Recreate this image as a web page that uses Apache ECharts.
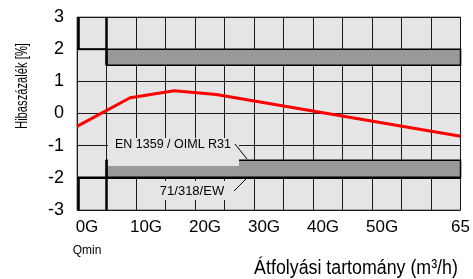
<!DOCTYPE html>
<html>
<head>
	<meta charset="utf-8" />
	<title>Hibagörbe</title>
	<script src="https://cdn.jsdelivr.net/npm/echarts@6/dist/echarts.min.js"></script>
	<style>
		html, body { margin: 0; padding: 0; background: #fff; }
		#chart { width: 473px; height: 279px; }
	</style>
</head>
<body>
	<div id="chart"></div>
	<script type="text/javascript">
		/******************* adatok ******************/
		// mért hibagörbe (átfolyás, hiba %)
		var curveQ = [0, 9, 16.5, 23.6, 65];
		var curveErr = [-0.4, 0.49, 0.71, 0.59, -0.71];

		// hibahatárok
		var qMin = 0.3, qT = 5, qMax = 65;
		var upperLimit = 2, upperInner = 1.5;
		var lowerLimit = -2, lowerInner = -1.45;

		// tengely feliratok
		var xLabelVals = [0, 10, 20, 30, 40, 50, 65];
		var xLabelText = ['0G', '10G', '20G', '30G', '40G', '50G', '65'];

		var curveData = curveQ.map(function (q, i) { return [q, curveErr[i]]; });
		var bands = [[qT, qMax, upperInner, upperLimit], [qT, qMax, lowerLimit, lowerInner]];
		var segments = [
			[[qMin, 3], [qMin, upperLimit], 2],
			[[0, upperLimit], [qT, upperLimit], 2],
			[[qT, 3], [qT, upperInner], 2.5],
			[[qMin, -3], [qMin, lowerLimit], 2],
			[[0, lowerLimit], [qMax, lowerLimit], 2.5],
			[[qT, lowerInner], [qT, -3], 2.5]
		];

		var dom = document.getElementById('chart');
		var myChart = echarts.init(dom, null, { renderer: 'canvas' });

		var option = {
			animation: false,
			grid: {
				left: 77, right: 11, top: 17, bottom: 69,
				show: true,
				backgroundColor: '#e5e5e5',
				borderColor: '#666',
				borderWidth: 1
			},
			xAxis: {
				type: 'value',
				min: 0, max: 65, interval: 5,
				axisLine: { show: false },
				axisTick: { show: false },
				splitLine: { show: true, lineStyle: { color: '#1a1a1a', width: 1 } },
				axisLabel: {
					margin: 9,
					color: '#000',
					fontFamily: 'Liberation Sans, Arial',
					fontSize: 17,
					showMaxLabel: true,
					formatter: function (v) {
						var i = xLabelVals.indexOf(v);
						if (i < 0) return '';
						if (v === 65) return xLabelText[i];
						if (v === 0) return '{g|' + xLabelText[i] + '}\n{q|Qmin}';
						return '{g|' + xLabelText[i] + '}';
					},
					rich: {
						g: { fontSize: 17, color: '#000', padding: [0, 0, 0, 20], fontFamily: 'Liberation Sans, Arial' },
						q: { fontSize: 12, color: '#000', padding: [9, 0, 0, 20], fontFamily: 'Liberation Sans, Arial' }
					}
				}
			},
			yAxis: {
				type: 'value',
				min: -3, max: 3, interval: 1,
				axisLine: { show: false },
				axisTick: { show: false },
				splitLine: { show: true, lineStyle: { color: '#1a1a1a', width: 1 } },
				axisLabel: { margin: 13, color: '#000', fontSize: 18, fontFamily: 'Liberation Sans, Arial' }
			},
			graphic: [
				// EN 1359 felirat
				{ type: 'rect', z: 100, shape: { x: 108, y: 138, width: 131, height: 28 }, style: { fill: '#e5e5e5' } },
				{ type: 'text', z: 101, x: 173, y: 145, style: { text: 'EN 1359 / OIML R31', font: '12.5px "Liberation Sans", Arial', fill: '#000', align: 'center', verticalAlign: 'middle' } },
				{ type: 'line', z: 101, shape: { x1: 235, y1: 144, x2: 247, y2: 159 }, style: { stroke: '#000', lineWidth: 1 } },
				// 71/318/EW felirat
				{ type: 'rect', z: 100, shape: { x: 155, y: 181, width: 76, height: 19 }, style: { fill: '#e5e5e5' } },
				{ type: 'text', z: 101, x: 192, y: 191, style: { text: '71/318/EW', font: '13px "Liberation Sans", Arial', fill: '#000', align: 'center', verticalAlign: 'middle' } },
				{ type: 'line', z: 101, shape: { x1: 234, y1: 191, x2: 246, y2: 179 }, style: { stroke: '#000', lineWidth: 1 } },
				// tengelycímek (keskeny betű)
				{ type: 'text', x: 356, y: 268, scaleX: 0.89, style: { text: 'Átfolyási tartomány (m³/h)', font: '20px "Liberation Sans", Arial', fill: '#000', align: 'center', verticalAlign: 'middle' } },
				{ type: 'text', x: 23, y: 86, rotation: Math.PI / 2, scaleX: 0.7, style: { text: 'Hibaszázalék [%]', font: '16px "Liberation Sans", Arial', fill: '#000', align: 'center', verticalAlign: 'middle' } }
			],
			series: [
				{
					name: 'hibasáv',
					type: 'custom',
					z: 3,
					data: bands,
					renderItem: function (params, api) {
						var p0 = api.coord([api.value(0), api.value(3)]);
						var p1 = api.coord([api.value(1), api.value(2)]);
						return {
							type: 'rect',
							shape: { x: p0[0], y: p0[1], width: p1[0] - p0[0], height: p1[1] - p0[1] },
							style: { fill: '#999', stroke: '#000', lineWidth: 1.5 }
						};
					}
				},
				{
					name: 'határvonal',
					type: 'custom',
					z: 4,
					data: segments.map(function (s, i) { return [i]; }),
					renderItem: function (params, api) {
						var s = segments[params.dataIndex];
						var a = api.coord(s[0]);
						var b = api.coord(s[1]);
						return {
							type: 'line',
							shape: { x1: a[0], y1: a[1], x2: b[0], y2: b[1] },
							style: { stroke: '#000', lineWidth: s[2] }
						};
					}
				},
				{
					name: 'hiba',
					type: 'line',
					z: 5,
					symbol: 'none',
					data: curveData,
					lineStyle: { color: '#ff0000', width: 3 }
				}
			]
		};

		myChart.setOption(option);
		window.addEventListener('resize', myChart.resize);
	</script>
</body>
</html>
